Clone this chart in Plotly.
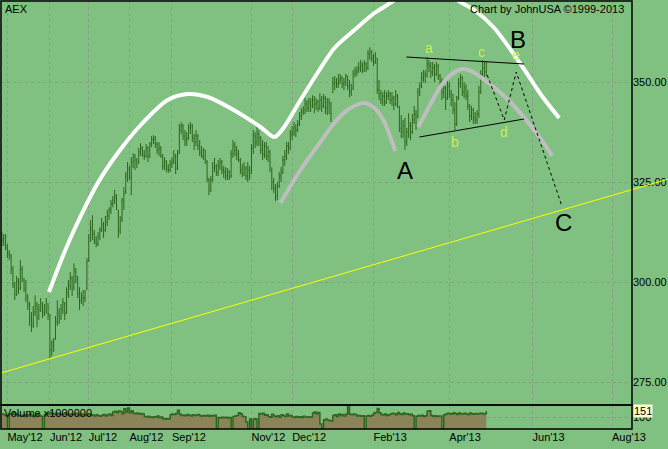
import numpy as np
import pandas as pd
import plotly.graph_objects as go

# ---------------- data ----------------
start_date = "2012-04-26"
end_date = "2013-04-29"
dates = pd.bdate_range(start_date, end_date)

opens = [
 311.5, 310.0, 311.5, 308.5, 307.0, 306.5, 303.5, 299.0, 297.5, 300.0,
 298.5, 303.0, 300.5, 298.0, 296.5, 294.0, 291.0, 289.5, 292.5, 294.0,
 291.5, 293.5, 294.0, 292.5, 293.0, 294.5, 291.5, 283.5, 284.0, 286.0,
 290.0, 292.0, 291.5, 293.0, 294.5, 292.5, 297.0, 299.0, 301.0, 298.5,
 302.5, 301.0, 297.5, 295.5, 296.0, 296.0, 298.5, 305.5, 310.5, 313.0,
 312.0, 310.0, 309.5, 311.0, 313.0, 314.0, 313.0, 315.0, 316.5, 318.0,
 319.5, 320.0, 321.0, 318.0, 313.0, 316.0, 320.0, 322.5, 326.0, 328.5,
 326.0, 330.0, 331.5, 330.5, 330.0, 332.5, 333.5, 332.0, 331.5, 333.5,
 331.5, 334.5, 335.5, 336.0, 334.5, 333.0, 333.5, 331.5, 329.0, 330.0,
 328.5, 328.0, 329.5, 330.0, 331.5, 328.5, 332.5, 338.0, 339.0, 336.5,
 335.5, 336.0, 338.5, 339.0, 336.0, 335.0, 336.5, 334.0, 332.5, 331.5,
 333.0, 330.0, 325.5, 323.5, 325.5, 328.5, 329.0, 327.5, 329.0, 330.0,
 328.0, 327.5, 326.5, 327.5, 326.5, 332.0, 334.0, 333.0, 332.0, 330.5,
 328.0, 327.0, 328.5, 326.5, 328.0, 327.5, 333.5, 336.5, 335.0, 337.0,
 336.0, 333.0, 332.0, 334.0, 331.5, 332.5, 328.0, 325.0, 323.5, 321.5,
 324.0, 326.5, 327.5, 330.5, 331.5, 334.0, 333.5, 337.0, 337.5, 338.5,
 338.0, 339.5, 341.5, 342.5, 343.0, 344.5, 343.5, 345.0, 344.0, 345.5,
 344.5, 345.0, 343.5, 345.5, 344.0, 346.0, 343.5, 345.0, 344.5, 347.5,
 349.5, 350.0, 349.5, 350.5, 351.0, 349.5, 350.0, 351.5, 349.0, 347.5,
 348.5, 352.0, 352.5, 353.0, 353.5, 354.0, 353.0, 354.5, 353.5, 357.0,
 357.5, 356.0, 355.0, 356.0, 348.0, 347.0, 345.5, 346.5, 345.0, 346.5,
 347.0, 345.5, 346.0, 344.5, 346.5, 344.0, 338.5, 337.5, 339.0, 335.0,
 337.5, 339.0, 337.5, 340.5, 342.0, 341.5, 347.5, 349.0, 351.0, 352.0,
 351.5, 354.5, 354.0, 352.5, 353.5, 352.0, 354.0, 351.5, 350.0, 347.5,
 348.5, 346.0, 349.0, 347.0, 345.5, 343.0, 339.5, 346.0, 349.5, 351.0,
 347.5, 348.5, 346.5, 344.0, 341.5, 343.0, 341.0, 340.5, 342.0, 347.5,
 352.0, 353.5, 352.5,
]
highs = [
 312.5, 312.0, 312.0, 309.5, 308.0, 307.0, 304.0, 300.0, 301.5, 301.0,
 305.5, 304.0, 301.0, 300.5, 297.0, 295.0, 292.5, 294.0, 296.7, 295.0,
 294.5, 296.0, 295.0, 294.5, 296.0, 294.7, 292.0, 285.5, 286.0, 291.5,
 295.5, 293.5, 294.5, 296.0, 295.0, 298.7, 300.5, 302.5, 301.5, 304.7,
 303.5, 301.5, 298.7, 297.5, 298.0, 298.0, 306.0, 312.0, 315.5, 316.7,
 313.0, 311.5, 312.5, 313.7, 316.0, 315.0, 316.5, 318.0, 318.7, 320.5,
 321.5, 323.0, 322.0, 318.0, 316.5, 321.0, 323.7, 327.5, 330.0, 329.0,
 331.2, 332.2, 332.0, 331.0, 333.5, 334.7, 334.0, 333.0, 334.5, 334.0,
 335.0, 336.5, 336.7, 336.5, 335.0, 335.0, 334.0, 332.0, 331.2, 330.5,
 329.5, 330.5, 331.2, 333.0, 332.0, 333.0, 339.5, 340.0, 339.5, 338.0,
 337.5, 339.5, 340.0, 339.5, 337.0, 338.0, 337.0, 335.5, 334.0, 333.5,
 333.0, 330.5, 326.0, 326.5, 330.0, 331.0, 329.5, 330.5, 331.0, 330.5,
 329.0, 328.7, 328.5, 328.0, 333.0, 335.5, 335.0, 334.0, 333.0, 331.0,
 329.5, 330.0, 329.0, 330.0, 329.0, 334.5, 338.0, 337.5, 338.7, 338.0,
 336.5, 335.5, 335.0, 335.0, 334.0, 333.0, 328.7, 326.0, 324.5, 325.0,
 327.5, 328.7, 331.5, 333.0, 335.0, 335.0, 338.0, 339.0, 340.0, 339.5,
 340.5, 342.5, 343.5, 344.0, 346.0, 345.5, 346.0, 346.0, 346.7, 346.5,
 346.0, 345.5, 347.2, 346.5, 347.0, 346.5, 346.0, 346.0, 345.0, 351.2,
 351.5, 351.0, 352.0, 352.0, 351.5, 351.0, 352.0, 351.5, 350.5, 349.5,
 353.0, 353.7, 354.0, 355.0, 355.5, 355.0, 355.5, 355.0, 358.0, 358.7,
 358.0, 357.0, 357.5, 356.0, 350.5, 348.0, 347.5, 348.0, 347.5, 348.0,
 347.5, 347.5, 346.5, 348.0, 347.0, 344.0, 341.7, 340.5, 341.0, 338.5,
 342.2, 340.0, 342.0, 344.0, 343.0, 348.5, 350.0, 352.5, 353.0, 353.0,
 356.2, 355.5, 355.0, 355.0, 354.5, 355.0, 354.5, 352.0, 351.0, 350.5,
 349.0, 351.0, 350.0, 348.0, 347.0, 345.0, 346.5, 351.0, 352.0, 351.5,
 350.0, 349.5, 348.0, 344.5, 344.0, 343.5, 342.5, 343.0, 349.0, 353.0,
 355.5, 355.0, 355.0,
]
lows = [
 309.0, 309.0, 308.0, 306.0, 305.5, 302.0, 298.5, 295.5, 296.5, 297.0,
 298.0, 300.0, 297.5, 295.0, 293.0, 289.0, 287.5, 288.5, 291.5, 288.7,
 290.5, 292.5, 291.0, 291.5, 292.0, 290.5, 281.0, 281.5, 282.5, 285.5,
 289.0, 289.5, 290.5, 292.0, 290.5, 292.0, 296.0, 298.0, 296.5, 298.0,
 299.7, 296.0, 293.0, 294.5, 294.0, 295.0, 298.0, 305.0, 310.0, 310.5,
 309.5, 308.7, 309.0, 310.5, 312.5, 311.0, 312.5, 314.0, 315.5, 317.0,
 318.7, 319.5, 318.0, 311.0, 312.0, 315.0, 318.0, 322.0, 325.0, 325.5,
 321.7, 328.5, 328.0, 328.5, 329.5, 331.5, 331.2, 330.5, 331.0, 330.0,
 331.0, 333.7, 334.5, 333.5, 332.0, 331.5, 331.0, 328.0, 328.0, 327.5,
 327.2, 327.5, 328.5, 329.5, 327.0, 328.0, 332.0, 337.0, 335.5, 334.0,
 334.0, 335.5, 337.0, 335.0, 333.0, 334.0, 333.0, 331.5, 331.0, 330.5,
 329.5, 325.0, 321.7, 322.5, 325.0, 327.5, 326.5, 326.5, 328.0, 327.0,
 326.0, 325.5, 325.5, 325.5, 326.0, 331.0, 331.5, 330.5, 330.0, 327.0,
 326.2, 326.5, 325.5, 325.0, 325.5, 327.0, 332.0, 333.5, 334.0, 334.0,
 332.0, 330.5, 331.0, 330.5, 330.0, 327.5, 323.0, 322.2, 320.2, 320.5,
 323.5, 325.0, 327.0, 329.0, 330.5, 332.0, 333.0, 335.5, 336.5, 336.2,
 337.5, 339.0, 340.5, 341.7, 342.0, 342.5, 342.5, 342.5, 343.5, 342.2,
 343.0, 342.5, 343.0, 342.5, 343.5, 342.0, 341.7, 342.0, 340.0, 347.2,
 348.0, 348.5, 348.5, 349.5, 348.5, 348.0, 349.0, 348.0, 346.2, 346.5,
 348.0, 351.2, 351.5, 352.2, 352.5, 352.2, 352.5, 352.5, 353.0, 355.5,
 355.0, 354.0, 354.5, 347.0, 345.5, 344.5, 344.0, 344.0, 344.5, 345.5,
 344.5, 344.0, 343.0, 344.0, 343.5, 337.5, 336.0, 336.0, 333.0, 334.0,
 336.0, 335.5, 337.0, 339.5, 338.0, 341.0, 346.5, 348.5, 350.0, 349.7,
 351.2, 352.5, 351.0, 351.5, 350.0, 351.5, 350.5, 348.5, 345.5, 346.0,
 343.0, 345.5, 346.0, 344.0, 342.0, 338.0, 339.0, 345.5, 348.5, 346.5,
 346.0, 345.5, 343.0, 340.0, 340.5, 339.5, 339.5, 339.5, 341.0, 347.0,
 351.5, 351.2, 351.5,
]
closes = [
 310.5, 311.0, 309.0, 307.5, 306.8, 303.0, 299.5, 297.0, 300.5, 298.0,
 303.5, 301.0, 298.5, 296.0, 294.5, 290.5, 289.0, 292.0, 294.5, 291.0,
 293.0, 294.5, 292.0, 293.5, 295.0, 292.0, 283.0, 284.5, 285.0, 290.5,
 292.5, 291.0, 293.5, 295.0, 292.0, 297.5, 299.5, 301.0, 298.0, 303.0,
 301.5, 297.0, 295.0, 296.5, 296.0, 297.5, 305.0, 311.0, 313.5, 312.0,
 310.5, 309.5, 311.5, 313.0, 314.5, 313.0, 315.5, 316.5, 318.0, 319.5,
 320.5, 321.5, 319.0, 313.5, 315.5, 320.5, 322.0, 326.5, 328.0, 327.0,
 330.5, 331.0, 330.5, 329.5, 332.5, 333.0, 332.0, 331.5, 333.5, 331.5,
 334.5, 335.5, 336.0, 334.5, 333.0, 333.5, 331.5, 329.0, 330.0, 328.5,
 328.0, 329.5, 330.0, 331.5, 328.5, 332.0, 338.5, 339.0, 336.5, 335.5,
 336.0, 338.5, 339.0, 336.0, 335.0, 336.5, 334.0, 332.5, 331.5, 333.0,
 330.5, 326.0, 323.0, 325.5, 328.5, 329.0, 327.5, 329.0, 330.0, 328.0,
 327.5, 326.5, 327.5, 326.0, 332.0, 334.0, 333.0, 332.0, 330.5, 328.0,
 327.0, 328.5, 326.5, 328.0, 327.0, 333.5, 336.5, 335.0, 337.0, 336.0,
 333.0, 332.0, 334.0, 331.5, 332.5, 330.0, 325.0, 323.5, 321.5, 324.0,
 326.5, 327.0, 330.5, 331.5, 334.0, 333.0, 337.0, 337.5, 338.5, 338.0,
 339.5, 341.5, 342.5, 343.0, 344.5, 343.5, 345.0, 344.0, 345.5, 344.5,
 345.0, 343.5, 345.5, 344.0, 346.0, 343.5, 345.0, 344.5, 342.0, 349.5,
 350.0, 349.5, 350.5, 351.0, 349.5, 350.0, 351.5, 349.0, 347.5, 348.0,
 352.0, 352.5, 353.0, 353.5, 354.0, 353.0, 354.5, 353.5, 357.0, 357.5,
 356.0, 355.0, 356.5, 348.0, 347.0, 345.5, 346.5, 345.0, 346.5, 347.0,
 345.5, 346.0, 344.5, 346.5, 345.0, 338.5, 337.5, 339.0, 335.0, 337.5,
 339.0, 337.5, 340.5, 342.0, 341.0, 347.5, 349.0, 351.0, 352.0, 351.5,
 354.5, 354.0, 352.5, 353.5, 352.0, 354.0, 351.5, 350.0, 347.5, 348.5,
 346.0, 349.0, 347.0, 345.5, 343.0, 339.5, 346.0, 349.5, 351.0, 347.5,
 348.5, 346.5, 344.0, 341.5, 343.0, 341.0, 340.5, 342.0, 347.5, 352.0,
 353.5, 352.5, 354.0,
]
volumes = [
 125, 118, 110, 0, 128, 120, 135, 118, 124, 112,
 108, 115, 121, 104, 118, 126, 110, 102, 117, 124,
 114, 106, 0, 120, 132, 127, 138, 122, 129, 118,
 131, 124, 118, 126, 135, 121, 114, 128, 119, 125,
 132, 116, 110, 124, 118, 113, 121, 127, 112, 116,
 108, 119, 111, 106, 115, 121, 109, 118, 124, 113,
 142, 148, 138, 151, 145, 128, 168, 142, 175, 136,
 152, 131, 127, 133, 124, 129, 126, 104, 98, 107,
 101, 96, 103, 99, 108, 94, 100, 86, 82, 88,
 84, 118, 126, 121, 129, 156, 122, 113, 117, 110,
 121, 115, 108, 119, 112, 116, 120, 111, 107, 113,
 109, 114, 106, 112, 108, 115, 0, 96, 92, 98,
 94, 97, 91, 95, 0, 104, 108, 112, 135, 128,
 106, 102, 58, 0, 84, 0, 82, 85, 0, 130,
 126, 131, 114, 119, 104, 98, 123, 108, 102, 110,
 98, 118, 112, 104, 126, 108, 113, 100, 96, 104,
 98, 102, 95, 106, 101, 97, 103, 99, 134, 141,
 128, 137, 42, 0, 78, 82, 74, 70, 66, 112,
 118, 105, 126, 113, 121, 108, 125, 228, 122, 118,
 126, 121, 108, 113, 106, 110, 0, 109, 112, 106,
 114, 132, 138, 170, 136, 121, 116, 124, 112, 118,
 125, 132, 128, 119, 137, 126, 120, 133, 124, 128,
 118, 123, 110, 0, 106, 112, 108, 114, 104, 111,
 148, 152, 112, 106, 110, 104, 108, 109, 0, 118,
 124, 131, 128, 122, 136, 129, 120, 133, 127, 124,
 132, 126, 121, 134, 128, 123, 130, 125, 129, 132,
 124, 128, 151,
]

month_ticks = ["2012-05-01", "2012-06-01", "2012-07-02", "2012-08-01", "2012-09-03",
               "2012-11-01", "2012-12-03", "2013-02-01", "2013-04-01", "2013-06-03",
               "2013-08-01"]
month_labels = ["May'12", "Jun'12", "Jul'12", "Aug'12", "Sep'12", "Nov'12", "Dec'12",
                "Feb'13", "Apr'13", "Jun'13", "Aug'13"]
price_ticks = [275, 300, 325, 350]
volume_ticks = [100]

# hand-drawn annotation paths, as (trading-day index, price)
white_idx = [25.5, 33.0, 40.6, 51.9, 62.7, 75.1, 89.7, 100.5, 111.3, 125.4, 139.9, 147.5,
             152.3, 161.5, 170.7, 179.9, 190.7, 201.5, 212.3, 220.9, 229.0, 238.2, 246.3,
             255.5, 266.3, 280.9, 291.7, 301.4]
white_px = [297.5, 306.5, 314.5, 324.75, 332.25, 339.25, 345.5, 347.0, 346.25, 343.0, 338.75, 336.25,
            338.5, 345.5, 352.25, 358.5, 363.0, 367.25, 370.5, 375.0, 377.5, 375.0, 370.5,
            368.0, 363.5, 354.25, 346.75, 341.0]
gray1_idx = [150.7, 161.5, 172.3, 179.4, 186.9, 195.5, 200.9, 206.3, 210.1, 212.8]
gray1_px = [319.75, 328.0, 335.0, 339.5, 343.0, 344.75, 343.75, 340.5, 336.25, 332.75]
gray2_idx = [225.2, 230.1, 237.1, 244.1, 249.5, 254.9, 260.3, 267.9, 275.5, 285.7, 293.8, 297.6]
gray2_px = [338.75, 343.0, 348.75, 352.25, 353.25, 352.5, 350.75, 348.0, 344.75, 339.25, 334.25, 331.5]
upper_idx, upper_px = [218.8, 282.5], [356.25, 354.5]
lower_idx, lower_px = [225.8, 282.5], [336.25, 340.75]
dotted_idx = [262.5, 271.7, 278.2, 302.5]
dotted_px = [351.75, 340.5, 352.5, 319.5]
trend_idx, trend_px = [-0.46, 340.8], [277.25, 323.1]
trend_ext_idx = 360.2  # where the hand-drawn yellow line leaves the picture on the right
big_labels = [("A", 218.2, 328.0), ("B", 279.3, 360.75), ("C", 303.5, 315.0)]
wave_labels = [("a", 231.2, 358.5), ("b", 245.2, 335.0), ("c", 259.3, 357.5),
               ("d", 271.7, 337.5), ("e", 278.2, 356.75)]

X_RANGE_IDX = [-0.46, 340.8]
Y_RANGE = [269.25, 370.25]

# ---------------- helpers ----------------
axis_dates = pd.bdate_range(start_date, periods=420)


def at(idx):
    if idx < 0:
        return axis_dates[0] + pd.Timedelta(days=idx)
    k = int(np.floor(idx))
    return axis_dates[k] + pd.Timedelta(days=float(idx - k))


def xs(lst):
    return [at(v) for v in lst]


BG = "#80C080"
GRID = "#8E9A8E"
BAR = "#2B661C"
VOL_FILL = "#8B845B"
FONT = "Liberation Sans, Arial, sans-serif"
VOL_TOP = 24 / 428

# yellow trend line continues past the price axis (outside the plot area)
slope = (trend_px[1] - trend_px[0]) / (trend_idx[1] - trend_idx[0])
p_end = trend_px[0] + slope * (X_RANGE_IDX[1] - trend_idx[0])
p_ext = trend_px[0] + slope * (trend_ext_idx - trend_idx[0])


def paper_x(idx):
    return (idx - X_RANGE_IDX[0]) / (X_RANGE_IDX[1] - X_RANGE_IDX[0])


def paper_y(p):
    return VOL_TOP + (p - Y_RANGE[0]) / (Y_RANGE[1] - Y_RANGE[0]) * (1 - VOL_TOP)


fig = go.Figure()

fig.add_trace(go.Ohlc(
    x=dates, open=opens, high=highs, low=lows, close=closes,
    increasing=dict(line=dict(color=BAR, width=1)),
    decreasing=dict(line=dict(color=BAR, width=1)),
    tickwidth=0.4, xaxis="x", yaxis="y", hoverinfo="skip", showlegend=False))

fig.add_trace(go.Scatter(
    x=dates, y=volumes, mode="lines", line=dict(color=BAR, width=1.5, shape="hv"),
    fill="tozeroy", fillcolor=VOL_FILL, xaxis="x", yaxis="y2", hoverinfo="skip",
    showlegend=False))

fig.add_trace(go.Scatter(x=xs(trend_idx), y=trend_px, mode="lines",
                         line=dict(color="#FFFF00", width=1), yaxis="y", showlegend=False,
                         hoverinfo="skip"))
fig.add_trace(go.Scatter(x=xs(white_idx), y=white_px, mode="lines",
                         line=dict(color="white", width=4, shape="spline", smoothing=0.8),
                         yaxis="y", showlegend=False, hoverinfo="skip"))
for gi, gp in [(gray1_idx, gray1_px), (gray2_idx, gray2_px)]:
    fig.add_trace(go.Scatter(x=xs(gi), y=gp, mode="lines",
                             line=dict(color="#BEBEBE", width=4, shape="spline", smoothing=0.8),
                             yaxis="y", showlegend=False, hoverinfo="skip"))
for li, lp in [(upper_idx, upper_px), (lower_idx, lower_px)]:
    fig.add_trace(go.Scatter(x=xs(li), y=lp, mode="lines", line=dict(color="black", width=1),
                             yaxis="y", showlegend=False, hoverinfo="skip"))
fig.add_trace(go.Scatter(x=xs(dotted_idx), y=dotted_px, mode="lines",
                         line=dict(color="black", width=1, dash="dot"),
                         yaxis="y", showlegend=False, hoverinfo="skip"))

annotations = []
for t, i, p in big_labels:
    annotations.append(dict(x=at(i), y=p, xref="x", yref="y", text=t, showarrow=False,
                            font=dict(family=FONT, size=24, color="black")))
for t, i, p in wave_labels:
    annotations.append(dict(x=at(i), y=p, xref="x", yref="y", text=t, showarrow=False,
                            font=dict(family=FONT, size=14, color="#C8EE5A")))
annotations += [
    dict(x=0.003, y=1, xref="paper", yref="paper", xanchor="left", yanchor="top",
         text="AEX", showarrow=False, font=dict(family=FONT, size=11, color="black")),
    dict(x=0.9905, y=1, xref="paper", yref="paper", xanchor="right", yanchor="top",
         text="Chart by JohnUSA ©1999-2013", showarrow=False,
         font=dict(family=FONT, size=11, color="black")),
    dict(x=0.002, y=VOL_TOP, xref="paper", yref="paper", xanchor="left", yanchor="top",
         text="Volume x1000000", showarrow=False,
         font=dict(family=FONT, size=11, color="black")),
    dict(x=1.0, y=volumes[-1], xref="paper", yref="y2", xanchor="left", yanchor="middle",
         xshift=1, text=str(volumes[-1]), showarrow=False, bgcolor="#FFFFCC", borderpad=0,
         font=dict(family=FONT, size=11, color="black")),
]

fig.update_layout(
    width=668, height=449,
    margin=dict(l=1, r=36, t=1, b=20, autoexpand=False),
    paper_bgcolor=BG, plot_bgcolor=BG,
    showlegend=False,
    font=dict(family=FONT, size=11, color="black"),
    xaxis=dict(type="date", range=[at(X_RANGE_IDX[0]), at(X_RANGE_IDX[1])],
               rangebreaks=[dict(bounds=["sat", "mon"])],
               tickvals=month_ticks, ticktext=month_labels, tickangle=0,
               ticklabelposition="outside right", ticks="", automargin=False,
               showgrid=True, gridcolor=GRID, griddash="dot", gridwidth=1,
               zeroline=False, showline=False, anchor="y2",
               rangeslider=dict(visible=False),
               tickfont=dict(family=FONT, size=11, color="black")),
    yaxis=dict(domain=[VOL_TOP, 1], range=Y_RANGE, side="right", anchor="x",
               tickvals=price_ticks, tickformat=".2f", ticks="", automargin=False,
               showgrid=True, gridcolor=GRID, griddash="dot", gridwidth=1,
               zeroline=False, showline=False,
               tickfont=dict(family=FONT, size=11, color="black")),
    yaxis2=dict(domain=[0, VOL_TOP], range=[0, 200], side="right", anchor="x",
                tickvals=volume_ticks, ticks="", automargin=False,
                showgrid=True, gridcolor=GRID, griddash="dot", gridwidth=1,
                zeroline=False, showline=False,
                tickfont=dict(family=FONT, size=11, color="black")),
    annotations=annotations,
    shapes=[
        dict(type="line", xref="paper", yref="paper",
             x0=paper_x(X_RANGE_IDX[1]), y0=paper_y(p_end),
             x1=paper_x(trend_ext_idx), y1=paper_y(p_ext),
             line=dict(color="#FFFF00", width=1), layer="above"),
        dict(type="rect", xref="paper", yref="paper", x0=0, x1=1, y0=VOL_TOP, y1=1,
             line=dict(color="black", width=1.5), layer="above"),
        dict(type="rect", xref="paper", yref="paper", x0=0, x1=1, y0=0, y1=VOL_TOP,
             line=dict(color="black", width=1.5), layer="above"),
    ],
)

fig.write_html("out.html", config={"displayModeBar": False},
               post_script="document.body.style.margin='0';document.body.style.background='" + BG + "';")
